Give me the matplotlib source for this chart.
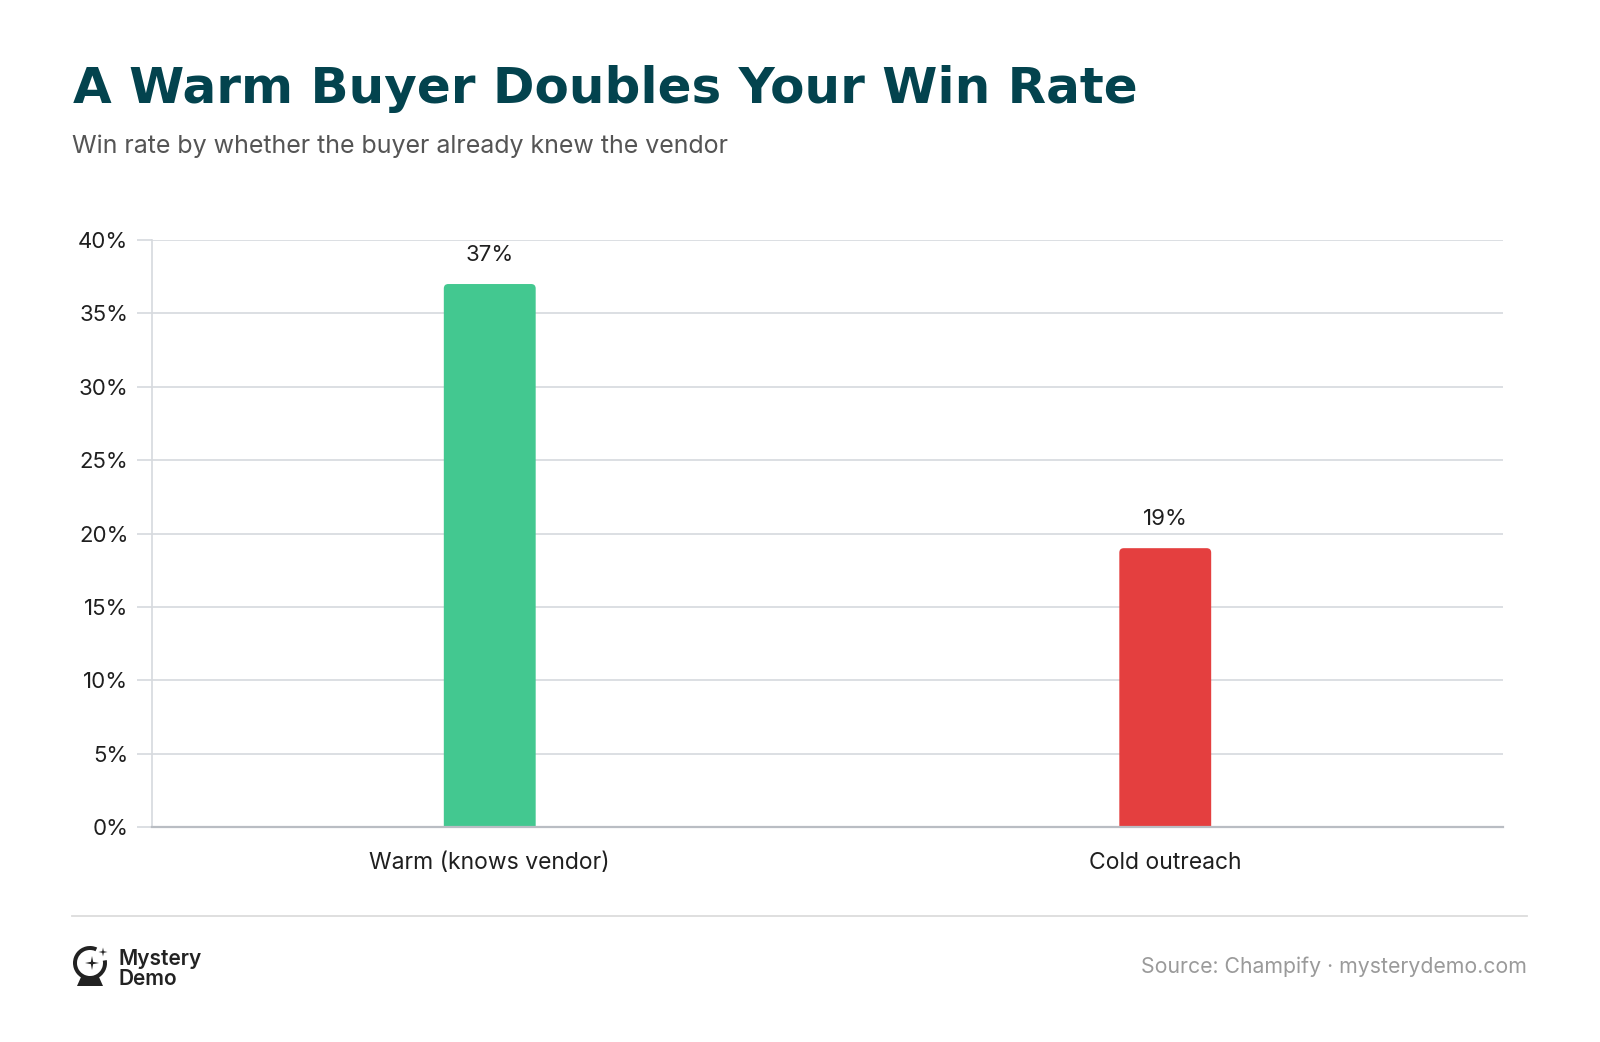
import matplotlib.pyplot as plt
from matplotlib.patches import FancyBboxPatch, Wedge, Polygon

categories = ["Warm (knows vendor)", "Cold outreach"]
win_rate = [37, 19]
bar_colors = ["#43c890", "#e43f3f"]
y_ticks = [0, 5, 10, 15, 20, 25, 30, 35, 40]
y_tick_labels = ["0%", "5%", "10%", "15%", "20%", "25%", "30%", "35%", "40%"]

plt.rcParams['font.family'] = ['Inter', 'DejaVu Sans']

W, H = 1600, 1042
fig = plt.figure(figsize=(16, 10.42), dpi=100)
fig.patch.set_facecolor('white')

grid_col = "#d6d9de"
ax = fig.add_axes([152 / W, 1 - 827 / H, (1503 - 152) / W, (827 - 240) / H])
ax.set_xlim(-0.5, 1.5)
ax.set_ylim(0, 40)

bar_w = 0.136
# rounded top corners: px per unit in x and y
px_x = (1503 - 152) / 2.0
px_y = (827 - 240) / 40.0
r_px = 4.5
for i, (v, c) in enumerate(zip(win_rate, bar_colors)):
    # start below zero so the bottom rounded corners are clipped away by the axes
    ax.add_patch(FancyBboxPatch((i - bar_w / 2, -2), bar_w, v + 2,
                                boxstyle="round,pad=0,rounding_size=%f" % (r_px / px_x),
                                mutation_aspect=px_x / px_y,
                                fc=c, ec='none', zorder=3))
    ax.annotate("%d%%" % v, (i, v), xytext=(0, 21), textcoords='offset points',
                ha='center', va='center', fontsize=16, color='#1f1f1f')

ax.set_yticks(y_ticks)
ax.set_yticklabels(y_tick_labels)
ax.set_xticks(range(len(categories)))
ax.set_xticklabels(categories)
ax.grid(axis='y', color=grid_col, linewidth=1.2, zorder=0)
ax.tick_params(axis='y', length=11, width=1.2, color=grid_col, pad=6, labelsize=16, labelcolor='#1f1f1f')
ax.tick_params(axis='x', length=0, pad=18, labelsize=16.5, labelcolor='#1f1f1f')
for s in ['top', 'right']:
    ax.spines[s].set_visible(False)
ax.spines['left'].set_color(grid_col)
ax.spines['left'].set_linewidth(1.2)
ax.spines['bottom'].set_color('#b9bdc3')
ax.spines['bottom'].set_linewidth(1.6)
ax.spines['bottom'].set_zorder(4)

# title and subtitle
fig.text(73 / W, 1 - 103 / H, "A Warm Buyer Doubles Your Win Rate", fontsize=36,
         fontweight='heavy', family=['DejaVu Sans'], color='#03434e', va='baseline')
fig.text(72 / W, 1 - 153 / H, "Win rate by whether the buyer already knew the vendor",
         fontsize=18, color='#555555', va='baseline')

# footer separator
fig.add_artist(plt.Line2D([72 / W, 1527 / W], [1 - 916 / H, 1 - 916 / H], color='#dcdcdc', lw=1.3))

# logo icon
lax = fig.add_axes([68 / W, 52 / H, 44 / W, 46 / H])
lax.set_xlim(68, 112)
lax.set_ylim(1042 - 52, 1042 - 98)
lax.axis('off')
icon = '#222222'
lax.add_patch(Wedge((90, 963), 17, -10, 295, width=4, fc=icon, ec='none'))
lax.add_patch(Polygon([(77, 986), (103, 986), (99, 977), (81, 977)], closed=True, fc=icon, ec='none'))


def star(cx, cy, r, ri):
    pts = []
    dirs = [(0, -1), (0.707, -0.707), (1, 0), (0.707, 0.707), (0, 1), (-0.707, 0.707), (-1, 0), (-0.707, -0.707)]
    for k, (dx, dy) in enumerate(dirs):
        rr = r if k % 2 == 0 else ri
        pts.append((cx + dx * rr, cy + dy * rr))
    return Polygon(pts, closed=True, fc=icon, ec='none')


lax.add_patch(star(92, 963, 7, 1.6))
lax.add_patch(star(103, 952, 4.5, 1.1))

fig.text(119 / W, 1 - 959 / H, "Mystery", fontsize=15, fontweight='semibold', color='#222222', va='center')
fig.text(119 / W, 1 - 979 / H, "Demo", fontsize=15, fontweight='semibold', color='#222222', va='center')

fig.text(1527 / W, 1 - 967 / H, "Source: Champify \u00b7 mysterydemo.com", fontsize=15.3,
         color='#9a9a9a', ha='right', va='center')

plt.savefig('out.png', dpi=100, facecolor='white')
